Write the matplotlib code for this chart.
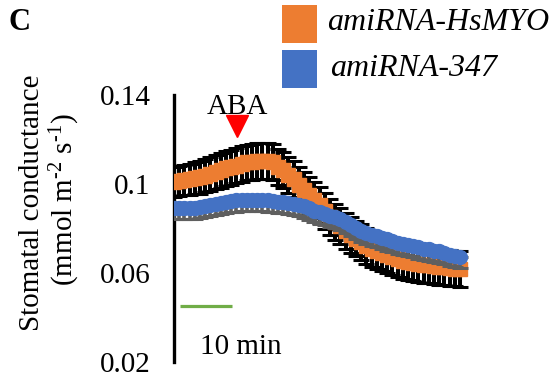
import matplotlib
matplotlib.use("Agg")
import matplotlib.pyplot as plt
from matplotlib.patches import Rectangle

plt.rcParams['font.family'] = ['Liberation Serif', 'DejaVu Serif']
plt.rcParams['mathtext.fontset'] = 'custom'
plt.rcParams['mathtext.rm'] = 'Liberation Serif'
plt.rcParams['mathtext.it'] = 'Liberation Serif:italic'
plt.rcParams['mathtext.bf'] = 'Liberation Serif:bold'

# ---- data (minutes, mmol m-2 s-1) ----
time_min = list(range(56))
hsmyo = [0.1009, 0.1013, 0.1018, 0.1022, 0.1027, 0.1031, 0.1038, 0.1045, 0.1054, 0.1061,
         0.1070, 0.1076, 0.1083, 0.1090, 0.1097, 0.1099, 0.1103, 0.1103, 0.1103, 0.1099,
         0.1076, 0.1063, 0.1040, 0.1022, 0.0996, 0.0973, 0.0951, 0.0928, 0.0906, 0.0879,
         0.0852, 0.0829, 0.0811, 0.0789, 0.0771, 0.0755, 0.0739, 0.0721, 0.0708, 0.0699,
         0.0690, 0.0681, 0.0672, 0.0663, 0.0654, 0.0649, 0.0645, 0.0640, 0.0636, 0.0634,
         0.0631, 0.0627, 0.0625, 0.0622, 0.0620, 0.0618]
hsmyo_err = [0.0066, 0.0067, 0.0068, 0.0070, 0.0072, 0.0074, 0.0075, 0.0076, 0.0077, 0.0078,
             0.0078, 0.0079, 0.0079, 0.0080, 0.0080, 0.0080, 0.0080, 0.0080, 0.0080, 0.0080,
             0.0080, 0.0080, 0.0080, 0.0080, 0.0080, 0.0080, 0.0080, 0.0080, 0.0080, 0.0080,
             0.0080, 0.0080, 0.0080, 0.0080, 0.0080, 0.0080, 0.0080, 0.0080, 0.0080, 0.0080,
             0.0080, 0.0080, 0.0080, 0.0080, 0.0080, 0.0080, 0.0080, 0.0080, 0.0080, 0.0080,
             0.0080, 0.0080, 0.0080, 0.0080, 0.0080, 0.0080]
c347 = [0.0892, 0.0892, 0.0892, 0.0894, 0.0894, 0.0897, 0.0901, 0.0906, 0.0910, 0.0915,
        0.0919, 0.0924, 0.0926, 0.0928, 0.0928, 0.0928, 0.0928, 0.0928, 0.0926, 0.0924,
        0.0921, 0.0919, 0.0915, 0.0910, 0.0906, 0.0899, 0.0890, 0.0879, 0.0872, 0.0865,
        0.0858, 0.0852, 0.0843, 0.0829, 0.0816, 0.0802, 0.0791, 0.0780, 0.0773, 0.0766,
        0.0757, 0.0751, 0.0744, 0.0737, 0.0730, 0.0726, 0.0721, 0.0715, 0.0710, 0.0706,
        0.0701, 0.0697, 0.0690, 0.0683, 0.0676, 0.0672]
c347_err = [0.0050] * 56
yticks = [0.02, 0.06, 0.1, 0.14]
ytick_labels = ['0.02', '0.06', '0.1', '0.14']
series_names = ['amiRNA-HsMYO', 'amiRNA-347']
aba_time = 12.1
scale_bar = [1.15, 11.15]

ORANGE = '#ED7D31'
BLUE = '#4472C4'

W, H = 553, 381
fig = plt.figure(figsize=(W / 100, H / 100), dpi=100)
ax = fig.add_axes([174 / W, 1 - 362 / H, 300 / W, (362 - 95) / H])

zero = [0] * len(c347_err)
ax.errorbar(time_min, hsmyo, yerr=hsmyo_err, fmt='none', ecolor='black',
            elinewidth=2.9, capsize=6, capthick=2.2, zorder=2)
ax.plot(time_min, hsmyo, ls='none', marker='s', ms=9.5, color=ORANGE,
        mec=ORANGE, zorder=3)
ax.errorbar(time_min, c347, yerr=[c347_err, zero], fmt='none', ecolor='#5f5f5f',
            elinewidth=2.6, capsize=6, capthick=2.2, zorder=4)
ax.plot(time_min, c347, ls='none', marker='o', ms=10, color=BLUE,
        mec=BLUE, zorder=5)

ax.set_xlim(0, 300 / 5.2)
ax.set_ylim(0.02, 0.14)
ax.set_yticks(yticks)
ax.set_yticklabels(ytick_labels, fontsize=21)
ax.tick_params(axis='y', length=0, pad=17)
ax.set_xticks([])
for s in ['top', 'right', 'bottom']:
    ax.spines[s].set_visible(False)
ax.spines['left'].set_linewidth(2.4)
ax.spines['left'].set_color('black')
ax.patch.set_alpha(0)

# ABA marker
ax.plot([aba_time], [0.1262], marker='v', ms=15.5, color='#FF0000',
        ls='none', clip_on=False, zorder=6)
ax.text(aba_time, 0.1345, 'ABA', fontsize=21, ha='center', va='center')

# scale bar
ax.plot(scale_bar, [0.0452, 0.0452], color='#70AD47', lw=2.3, solid_capstyle='butt')
ax.text(12.9, 0.0267, '10 min', fontsize=21, ha='center', va='center')

# y label
fig.text(32 / W, 1 - 203 / H, 'Stomatal conductance', rotation=90,
         fontsize=21, ha='center', va='center')
fig.text(65 / W, 1 - 200 / H,
         r'(mmol $\mathregular{m^{\text{-}2}}$ $\mathregular{s^{\text{-}1}}$)',
         rotation=90, fontsize=21, ha='center', va='center')

# panel letter
fig.text(19 / W, 1 - 23 / H, 'C', fontsize=22, fontweight='bold',
         ha='center', va='center')

# legend
for i, (name, col) in enumerate(zip(series_names, [ORANGE, BLUE])):
    y0 = 5 + i * 45
    fig.patches.append(Rectangle((282 / W, 1 - (y0 + 38) / H), 35 / W, 38 / H,
                                 transform=fig.transFigure, facecolor=col,
                                 edgecolor='none'))
    fig.text((327 + 3 * i) / W, 1 - (y0 + 18) / H, name, fontsize=23,
             fontstyle='italic', ha='left', va='center')

fig.savefig('out.png', dpi=100)
